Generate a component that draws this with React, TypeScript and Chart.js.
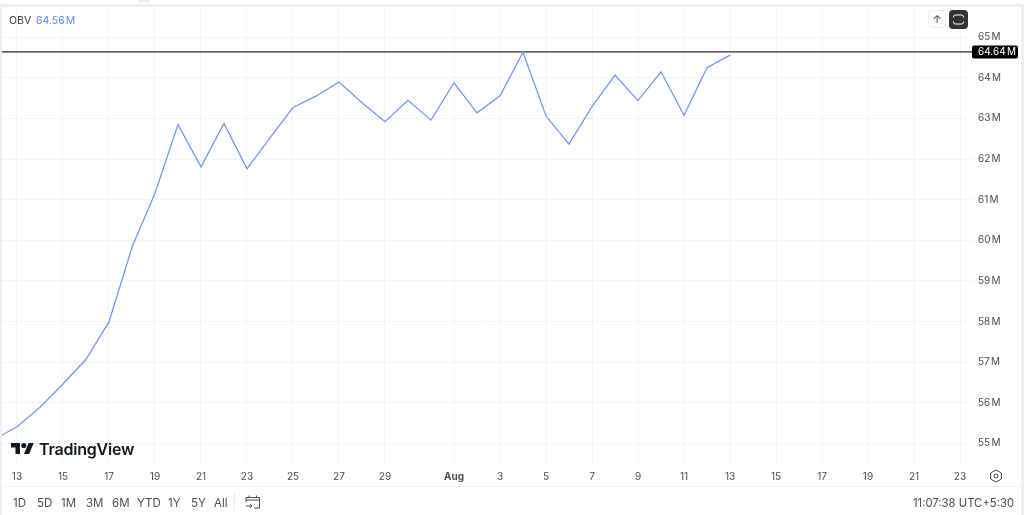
import React, { useEffect, useRef } from "react";
import { Chart, registerables } from "chart.js";

Chart.register(...registerables);

const days = [-1, 0, 1, 2, 3, 4, 5, 6, 7, 8, 9, 10, 11, 12, 13, 14, 15, 16, 17, 18, 19, 20, 21, 22, 23, 24, 25, 26, 27, 28, 29, 30, 31];
const obv = [55.09, 55.41, 55.89, 56.46, 57.07, 57.99, 59.83, 61.16, 62.85, 61.81, 62.88, 61.76, 62.52, 63.27, 63.55, 63.9, 63.39, 62.92, 63.45, 62.96, 63.88, 63.14, 63.56, 64.63, 63.06, 62.37, 63.29, 64.07, 63.44, 64.15, 63.08, 64.25, 64.56];
const tickDays = [0, 2, 4, 6, 8, 10, 12, 14, 16, 19, 21, 23, 25, 27, 29, 31, 33, 35, 37, 39, 41];
const tickLabels = ["13", "15", "17", "19", "21", "23", "25", "27", "29", "Aug", "3", "5", "7", "9", "11", "13", "15", "17", "19", "21", "23"];
const yTicks = [55, 56, 57, 58, 59, 60, 61, 62, 63, 64, 65];
const lastMark = 64.64;
const ranges = ["1D", "5D", "1M", "3M", "6M", "YTD", "1Y", "5Y", "All"];
const rangeX = [13, 37, 61, 86, 112, 137, 168, 191, 214];

const FONT = '"Inter", "Noto Sans", sans-serif';
const TEXT = "#4a4e59";

const tagPlugin = {
  id: "tag",
  beforeDraw(chart: any) {
    chart.ctx.wordSpacing = "-1.5px";
  },
  afterDraw(chart: any) {
    const { ctx, scales } = chart;
    const y = scales.y.getPixelForValue(lastMark);
    ctx.save();
    ctx.fillStyle = "#000";
    ctx.beginPath();
    ctx.roundRect(972, y - 6.5, 46, 13, 2);
    ctx.fill();
    ctx.fillStyle = "#fff";
    ctx.font = `10px ${FONT}`;
    ctx.textBaseline = "middle";
    ctx.textAlign = "left";
    ctx.fillText(lastMark.toFixed(2) + " M", 978, y + 0.5);
    ctx.restore();
  },
};

const abs = (left: number, top: number, extra: React.CSSProperties = {}): React.CSSProperties => ({
  position: "absolute",
  left,
  top,
  fontFamily: FONT,
  whiteSpace: "nowrap",
  ...extra,
});

export default function App() {
  const ref = useRef<HTMLCanvasElement>(null);
  useEffect(() => {
    document.body.style.margin = "0";
    document.body.style.background = "#fff";
    const chart = new Chart(ref.current!, {
      type: "line",
      plugins: [tagPlugin],
      data: {
        datasets: [
          {
            data: days.map((d, i) => ({ x: d, y: obv[i] })),
            borderColor: "#6c98f8",
            borderWidth: 1.25,
            pointRadius: 0,
            tension: 0,
          },
          {
            data: [
              { x: -0.652, y: lastMark },
              { x: 41.565, y: lastMark },
            ],
            borderColor: "#2a2a2a",
            borderWidth: 1.25,
            pointRadius: 0,
          },
        ],
      },
      options: {
        animation: false,
        responsive: false,
        events: [],
        layout: { padding: { left: 2, top: 7, right: 0, bottom: 0 } },
        plugins: { legend: { display: false }, tooltip: { enabled: false } },
        scales: {
          x: {
            type: "linear",
            min: -0.652,
            max: 41.565,
            afterBuildTicks(axis: any) {
              axis.ticks = tickDays.map((v) => ({ value: v }));
            },
            afterFit(axis: any) {
              axis.height = 50;
              axis.paddingLeft = 0;
              axis.paddingRight = 0;
            },
            ticks: {
              autoSkip: false,
              maxRotation: 0,
              padding: 6,
              color: TEXT,
              font: (c: any) => ({ family: FONT, size: 10, weight: c.tick?.value === 19 ? "bold" : "normal" }),
              callback: (v: any) => tickLabels[tickDays.indexOf(Number(v))] ?? "",
            },
            grid: { color: "#f3f4f6", lineWidth: 1, drawTicks: false },
            border: { display: false },
          },
          y: {
            position: "right",
            min: 54.466,
            max: 65.746,
            afterBuildTicks(axis: any) {
              axis.ticks = yTicks.map((v) => ({ value: v }));
            },
            afterFit(axis: any) {
              axis.width = 51;
              axis.paddingTop = 0;
              axis.paddingBottom = 0;
            },
            ticks: {
              autoSkip: false,
              padding: 5,
              color: TEXT,
              font: { family: FONT, size: 10 },
              callback: (v: any) => `${v} M`,
            },
            grid: { color: "#f3f4f6", lineWidth: 1, drawTicks: false },
            border: { display: false },
          },
        },
      },
    } as any);
    return () => chart.destroy();
  }, []);

  return (
    <div style={{ position: "relative", width: 1024, height: 515, overflow: "hidden", background: "#fff" }}>
      <canvas ref={ref} width={1024} height={515} style={{ display: "block" }} />
      <div style={{ position: "absolute", left: 0, top: 4, width: 1024, height: 3, background: "#f0f0f0" }} />
      <div style={{ position: "absolute", left: 0, top: 7, width: 1.5, height: 508, background: "#f0f0f0" }} />
      <div style={{ position: "absolute", left: 1021, top: 7, width: 3, height: 508, background: "#f0f0f0" }} />
      <div style={{ position: "absolute", left: 138, top: 0, width: 12, height: 2, borderRadius: "0 0 5px 5px", background: "#ececec" }} />
      <div style={{ position: "absolute", left: 0, top: 486, width: 1024, height: 1, background: "#f1f2f4" }} />
      <div style={abs(9, 14, { fontSize: 10.5, color: "#3b3f4a" })}>OBV</div>
      <div style={abs(36, 14, { fontSize: 10.5, color: "#5b8cf5", wordSpacing: "-2px" })}>64.56 M</div>
      <div style={{ ...abs(928, 10), width: 18, height: 18, border: "1px solid #eeeef0", borderRadius: 4, boxSizing: "border-box", fontSize: 11, color: "#444", textAlign: "center", lineHeight: "16px" }}>↑</div>
      <svg width="19" height="19" viewBox="0 0 19 19" style={{ position: "absolute", left: 949, top: 10 }}>
        <rect width="19" height="19" rx="4" fill="#333" />
        <path d="M4.5 7.5V7a2 2 0 0 1 2-2h6a2 2 0 0 1 2 2v.5 M4.5 11.5V12a2 2 0 0 0 2 2h6a2 2 0 0 0 2-2v-.5" fill="none" stroke="#fff" strokeWidth="1" />
      </svg>
      <svg width="23" height="11.5" viewBox="0 4 36 18" style={{ position: "absolute", left: 11, top: 442.5 }}>
        <path d="M14 22H7V11H0V4h14v18zM28 22h-8l7.5-18h8L28 22z" fill="#131722" />
        <circle cx="20" cy="8" r="4" fill="#131722" />
      </svg>
      <div style={abs(39, 438.5, { fontSize: 16, fontWeight: 600, color: "#131722", letterSpacing: "-0.2px" })}>TradingView</div>
      {ranges.map((r, i) => (
        <div key={r} style={abs(rangeX[i], 496, { fontSize: 11.5, color: TEXT })}>{r}</div>
      ))}
      <div style={{ position: "absolute", left: 234, top: 493, width: 1, height: 17, background: "#e8e8ec" }} />
      <svg width="16" height="16" viewBox="0 0 16 16" style={{ position: "absolute", left: 245, top: 494 }} fill="none" stroke={TEXT} strokeWidth="1">
        <path d="M1 8V3.5H14.5V14H9 M1 6H14.5 M4 1.5V4 M11.5 1.5V4 M1 12H7 M5 10L7 12L5 14" />
      </svg>
      <div style={abs(913, 496, { fontSize: 11.3, color: TEXT })}>11:07:38 UTC+5:30</div>
      <svg width="14" height="14" viewBox="0 0 14 14" style={{ position: "absolute", left: 989, top: 469 }} fill="none" stroke={TEXT} strokeWidth="1">
        <path d="M7 1L12.5 4V10L7 13L1.5 10V4Z" />
        <circle cx="7" cy="7" r="2" />
      </svg>
    </div>
  );
}
